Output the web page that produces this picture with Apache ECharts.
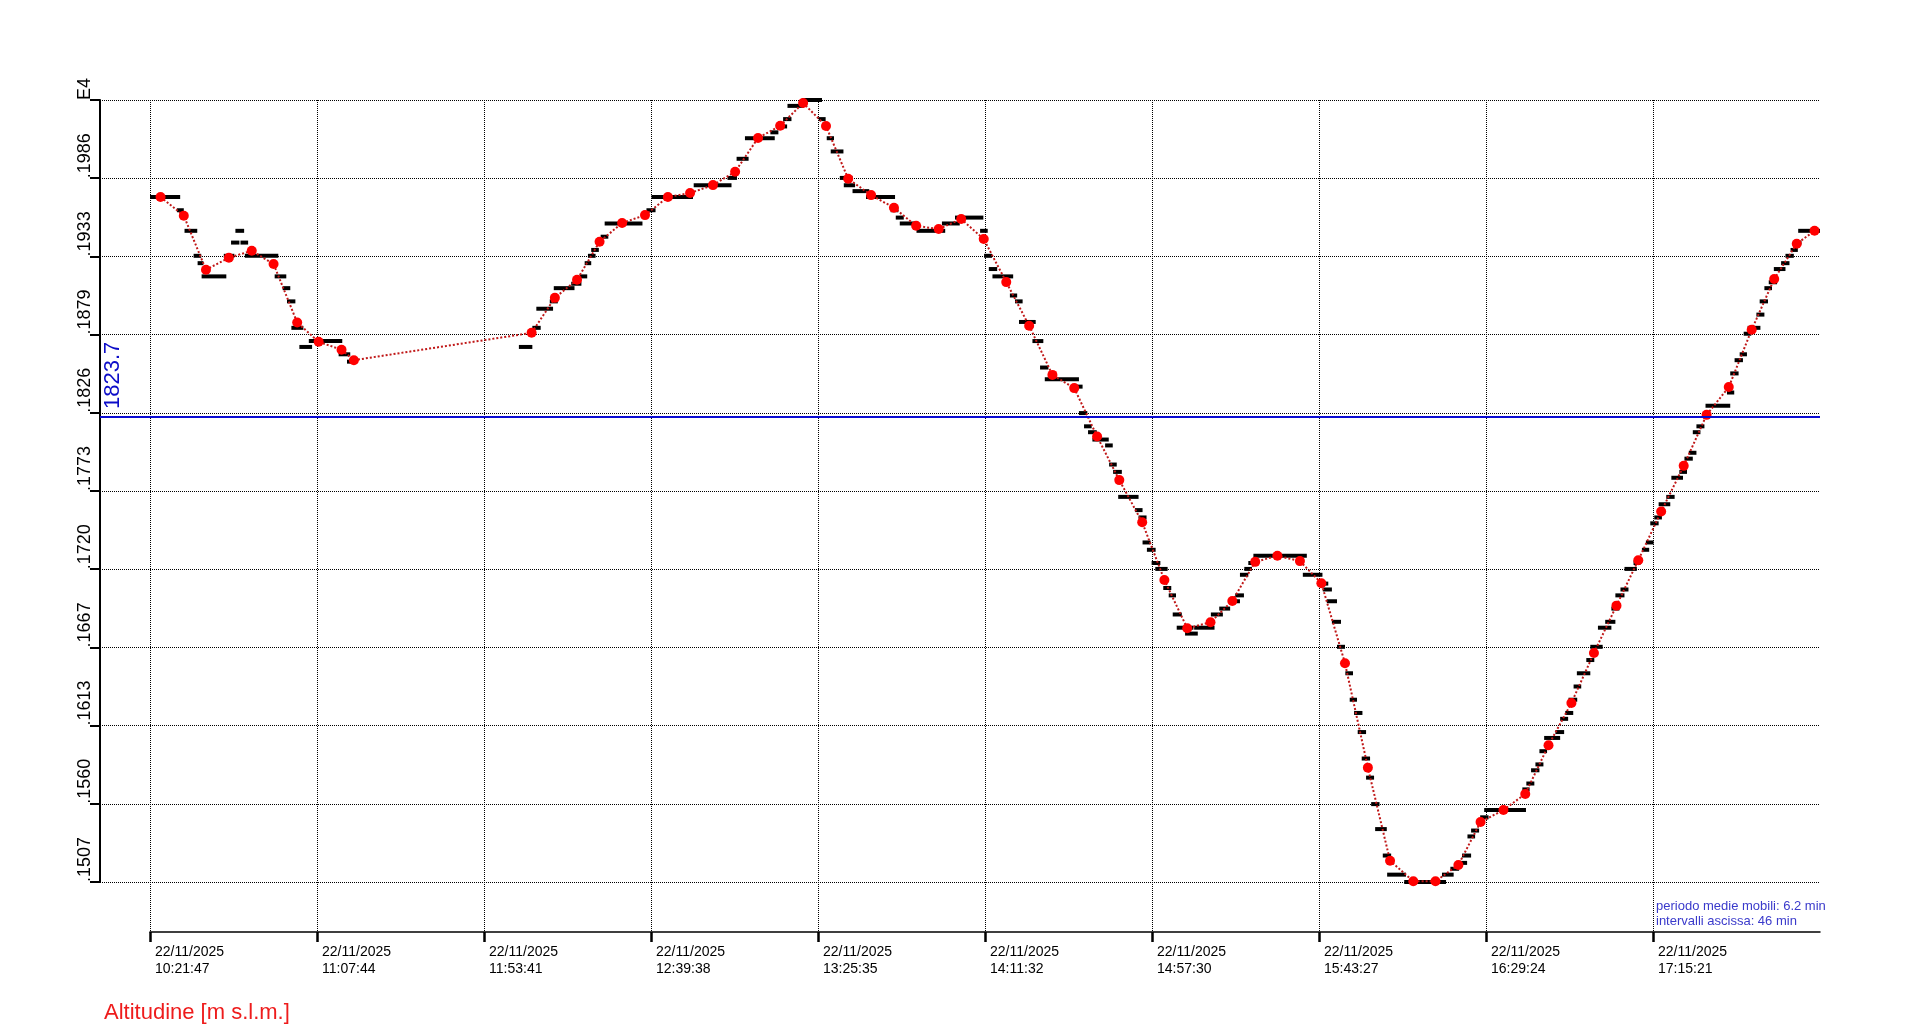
<!DOCTYPE html>
<html lang="it">
<head>
<meta charset="UTF-8">
<title>Altitudine [m s.l.m.]</title>
<script src="https://cdn.jsdelivr.net/npm/echarts@6/dist/echarts.min.js"></script>
<style>
    html, body { margin: 0; padding: 0; background: #fff; }
    #main { width: 1920px; height: 1032px; }
</style>
</head>
<body>
<div id="main"></div>
<script type="text/javascript">
// etichette asse x (una ogni 46 min), valori in minuti dall'inizio
var dateLabel = '22/11/2025';
var timeLabels = ['10:21:47', '11:07:44', '11:53:41', '12:39:38', '13:25:35',
                  '14:11:32', '14:57:30', '15:43:27', '16:29:24', '17:15:21'];
var xStep = 45.95;

// asse y: scala E4
var yLabels = ['.1507', '.1560', '.1613', '.1667', '.1720', '.1773',
               '.1826', '.1879', '.1933', '.1986', 'E4'];
var yMin = 1507;
var yStep = 53.2;

var refAltitude = 1823.7;

// medie mobili (6.2 min)
var maMinutes = [2.9, 9.3, 15.4, 21.7, 28.0, 34.0, 40.5, 46.4, 52.7, 56.1,
    105.0, 111.4, 117.5, 123.7, 129.9, 136.2, 142.5, 148.6, 154.9, 161.0,
    167.3, 173.4, 179.7, 186.0, 192.1, 198.4, 204.7, 210.8, 217.0, 223.2,
    229.4, 235.6, 241.9, 248.3, 254.3, 260.6, 266.7, 273.0, 279.1, 285.4,
    291.8, 297.8, 304.1, 310.2, 316.4, 322.3, 328.8, 335.1, 341.2, 347.6,
    353.7, 360.0, 366.1, 372.4, 378.4, 384.8, 391.1, 397.3, 403.5, 409.5,
    415.8, 422.0, 428.3, 434.4, 440.7, 446.9, 453.1, 458.0];
var maAltitude = [1973.0, 1960.3, 1923.5, 1931.7, 1936.4, 1927.4, 1887.6, 1874.5, 1869.1, 1862.0,
    1880.6, 1904.4, 1916.7, 1942.6, 1955.3, 1960.7, 1973.0, 1975.7, 1981.1, 1990.2,
    2013.1, 2021.5, 2037.0, 2021.3, 1985.4, 1974.3, 1965.7, 1953.4, 1951.2, 1958.0,
    1944.4, 1915.1, 1885.4, 1852.0, 1843.0, 1810.1, 1780.4, 1751.8, 1712.5, 1679.6,
    1683.7, 1698.2, 1724.8, 1728.9, 1725.3, 1710.3, 1655.8, 1584.8, 1521.5, 1507.5,
    1507.5, 1518.6, 1547.8, 1556.0, 1566.9, 1600.0, 1628.8, 1662.8, 1695.0, 1725.9,
    1759.0, 1790.1, 1824.8, 1843.7, 1882.7, 1917.2, 1941.2, 1950.0];

// dati grezzi: [inizio min, fine min, quota]
var rawDashes = [
    [0, 8.3, 1973], [7.4, 9.3, 1964], [9.5, 13.0, 1950], [12.0, 14.1, 1933],
    [13.1, 14.7, 1928], [14.2, 21.0, 1919], [20.3, 23.2, 1933], [22.3, 24.6, 1942],
    [24.9, 27.0, 1942], [23.5, 25.9, 1950], [26.1, 35.3, 1933], [34.3, 37.5, 1919],
    [36.5, 38.6, 1911], [37.7, 40.0, 1902], [38.9, 42.2, 1884], [41.1, 44.6, 1871],
    [43.7, 52.9, 1875], [51.9, 55.1, 1866], [54.2, 56.7, 1861],
    [101.5, 105.2, 1871], [105.2, 107.5, 1884], [106.3, 110.9, 1897], [110.0, 112.2, 1902],
    [111.1, 116.8, 1911], [115.9, 118.7, 1914], [118.2, 120.3, 1919], [119.6, 121.4, 1928],
    [120.5, 122.6, 1933], [121.4, 123.5, 1937], [124.0, 126.1, 1946], [125.1, 135.5, 1955],
    [136.6, 139.1, 1964], [138.0, 149.4, 1973], [147.6, 149.6, 1976], [149.6, 160.0, 1981],
    [158.9, 161.5, 1986], [161.4, 164.7, 1999], [163.7, 171.9, 2013], [170.7, 172.9, 2017],
    [172.2, 175.3, 2021], [174.2, 176.5, 2026], [175.4, 179.9, 2035], [179.5, 184.9, 2039],
    [184.0, 185.9, 2026], [186.2, 188.2, 2013], [187.3, 190.8, 2004], [189.8, 193.3, 1986],
    [190.9, 194.0, 1981], [193.3, 197.9, 1977], [197.0, 205.0, 1973], [203.8, 205.9, 1964],
    [205.2, 207.4, 1959], [206.3, 210.9, 1955], [210.9, 218.8, 1950], [217.9, 222.8, 1955],
    [221.5, 229.3, 1959], [228.4, 230.5, 1950], [229.5, 231.7, 1933], [230.8, 233.1, 1924],
    [231.8, 237.5, 1919], [236.6, 238.6, 1906], [238.0, 240.1, 1902], [239.1, 243.7, 1888],
    [242.8, 245.8, 1875], [244.9, 247.2, 1857], [246.2, 255.6, 1849], [254.6, 256.6, 1844],
    [255.6, 257.9, 1826], [257.0, 259.1, 1817], [258.1, 260.5, 1813], [259.3, 263.8, 1808],
    [262.8, 264.9, 1804], [263.9, 266.0, 1791], [265.0, 267.4, 1786], [266.4, 272.0, 1769],
    [271.0, 273.1, 1760], [272.0, 274.2, 1755], [273.1, 275.3, 1738], [274.3, 276.7, 1733],
    [275.6, 278.0, 1724], [276.6, 280.0, 1720], [278.8, 281.0, 1707], [280.3, 282.3, 1702],
    [281.4, 283.9, 1689], [282.5, 287.1, 1680], [284.8, 288.3, 1676], [287.3, 292.9, 1680],
    [291.9, 295.2, 1689], [294.2, 297.2, 1693], [297.2, 299.9, 1698], [298.6, 301.0, 1702],
    [299.9, 302.2, 1716], [301.1, 303.2, 1720], [302.2, 304.5, 1724], [303.6, 318.3, 1729],
    [317.2, 322.6, 1716], [321.5, 324.2, 1710], [322.7, 325.2, 1706], [323.8, 326.6, 1698],
    [325.2, 327.7, 1684], [326.6, 328.8, 1667], [328.9, 331.0, 1649], [330.1, 332.1, 1631],
    [331.3, 333.6, 1622], [332.3, 334.6, 1609], [333.4, 335.7, 1591], [334.6, 336.8, 1578],
    [336.0, 338.3, 1560], [337.1, 340.3, 1543], [339.2, 341.5, 1525], [340.4, 345.6, 1512],
    [345.1, 356.6, 1507], [355.5, 358.7, 1512], [357.8, 360.2, 1516], [359.6, 362.4, 1520],
    [361.0, 363.5, 1525], [362.5, 364.6, 1538], [363.5, 365.7, 1542], [366.0, 368.3, 1551],
    [367.1, 378.6, 1556], [377.6, 379.6, 1570], [378.7, 380.9, 1574], [380.0, 382.3, 1583],
    [381.2, 383.4, 1587], [382.3, 384.4, 1596], [383.6, 388.0, 1605], [386.7, 389.1, 1609],
    [388.0, 390.2, 1618], [389.4, 391.6, 1622], [390.3, 392.7, 1631], [391.7, 393.8, 1640],
    [392.6, 396.3, 1649], [395.2, 397.4, 1658], [396.3, 399.7, 1667], [398.4, 402.1, 1680],
    [400.4, 403.2, 1684], [402.1, 404.3, 1693], [403.2, 405.7, 1702], [404.6, 406.8, 1706],
    [405.7, 409.1, 1720], [408.2, 410.1, 1724], [410.5, 412.5, 1733], [411.6, 413.7, 1738],
    [412.8, 415.1, 1751], [413.9, 416.0, 1755], [415.1, 418.3, 1764], [417.2, 419.5, 1769],
    [418.6, 421.8, 1782], [420.8, 422.9, 1786], [422.2, 424.5, 1795], [423.4, 425.5, 1799],
    [424.5, 426.6, 1813], [425.5, 427.7, 1817], [428.0, 434.8, 1831], [433.9, 435.9, 1840],
    [434.8, 437.1, 1853], [436.0, 438.3, 1862], [437.4, 439.4, 1866], [438.5, 440.6, 1880],
    [439.6, 443.1, 1884], [442.0, 444.2, 1893], [442.9, 445.2, 1902], [444.2, 446.3, 1911],
    [445.4, 447.7, 1915], [446.8, 450.0, 1924], [448.8, 451.1, 1928], [450.0, 452.3, 1933],
    [451.4, 453.4, 1937], [452.3, 454.4, 1942], [453.5, 459.5, 1950]
];

var yMax = yMin + yStep * (yLabels.length - 1);
var xMax = xStep * timeLabels.length;

// griglia A: asse y e linee orizzontali, griglia B: tempo e dati
var gridA = {left: 100, top: 100, width: 1720, height: 782};
var gridB = {left: 150, top: 100, width: 1670, height: 832};
var yMinB = yMin - (gridB.height - gridA.height) / gridA.height * (yMax - yMin);

var maData = maMinutes.map(function (t, i) { return [t, maAltitude[i]]; });

var myChart = echarts.init(document.getElementById('main'));
var dotted = {color: '#000', type: 'dotted', width: 1};
var font = '"Liberation Sans", Arial, sans-serif';

var option = {
    animation: false,
    backgroundColor: '#fff',
    textStyle: {fontFamily: font},
    grid: [gridA, gridB],
    xAxis: [
        {gridIndex: 0, type: 'value', min: 0, max: 1, show: false},
        {
            gridIndex: 1, type: 'value', min: 0, max: xMax, interval: xStep,
            axisLine: {show: true, lineStyle: {color: '#000', width: 1.5}},
            axisTick: {show: true, length: 10, lineStyle: {color: '#000', width: 2.5}},
            axisLabel: {
                showMinLabel: true, showMaxLabel: false,
                margin: 12, align: 'left', verticalAlign: 'top',
                padding: [0, 0, 0, 5], fontSize: 14, lineHeight: 17, color: '#000',
                formatter: function (v) {
                    var i = Math.round(v / xStep);
                    return i < timeLabels.length ? dateLabel + '\n' + timeLabels[i] : '';
                }
            },
            splitLine: {show: true, showMaxLine: false, lineStyle: dotted}
        }
    ],
    yAxis: [
        {
            gridIndex: 0, type: 'value', min: yMin, max: yMax, interval: yStep,
            axisLine: {show: true, lineStyle: {color: '#000', width: 2}},
            axisTick: {show: true, length: 10, lineStyle: {color: '#000', width: 2}},
            axisLabel: {
                showMinLabel: true, showMaxLabel: true,
                rotate: 90, align: 'left', verticalAlign: 'middle', margin: 15,
                fontSize: 18, color: '#000',
                formatter: function (v) {
                    return yLabels[Math.round((v - yMin) / yStep)] || '';
                }
            },
            splitLine: {show: true, lineStyle: dotted}
        },
        {gridIndex: 1, type: 'value', min: yMinB, max: yMax, show: false}
    ],
    series: [
        {
            // quota di riferimento
            type: 'scatter', xAxisIndex: 0, yAxisIndex: 0, z: 2,
            data: [[0, refAltitude]],
            symbolSize: 1, itemStyle: {color: 'rgba(0,0,0,0)', opacity: 1}, silent: true,
            label: {
                show: true, formatter: refAltitude.toFixed(1), opacity: 1,
                rotate: 90, position: [13, -7], align: 'left', verticalAlign: 'middle',
                fontSize: 22, color: '#0c0cc8'
            },
            markLine: {
                silent: true, symbol: ['none', 'none'], label: {show: false},
                lineStyle: {color: '#0a0ad2', width: 2, type: 'solid'},
                data: [{yAxis: refAltitude}]
            }
        },
        {
            // dati grezzi
            type: 'custom', xAxisIndex: 1, yAxisIndex: 1, z: 3, clip: false,
            data: rawDashes,
            encode: {x: [0, 1], y: 2},
            renderItem: function (params, api) {
                var a = api.coord([api.value(0), api.value(2)]);
                var b = api.coord([api.value(1), api.value(2)]);
                return {
                    type: 'rect',
                    shape: {x: a[0], y: a[1] - 2, width: b[0] - a[0], height: 4},
                    style: {fill: '#000'}
                };
            }
        },
        {
            // medie mobili
            type: 'line', xAxisIndex: 1, yAxisIndex: 1, z: 4,
            data: maData,
            symbol: 'circle', symbolSize: 10,
            itemStyle: {color: '#ff0000'},
            lineStyle: {color: '#c01818', width: 2, type: 'dotted'}
        }
    ],
    graphic: [
        {
            type: 'text', left: 104, top: 1002,
            style: {text: 'Altitudine [m s.l.m.]', fill: '#ee1c1c', font: '22px ' + font}
        },
        {
            type: 'text', left: 1656, top: 899,
            style: {
                text: 'periodo medie mobili: 6.2 min\nintervalli ascissa: 46 min',
                fill: '#3a3acb', font: '13px ' + font, lineHeight: 15
            }
        }
    ]
};
myChart.setOption(option);
</script>
</body>
</html>
